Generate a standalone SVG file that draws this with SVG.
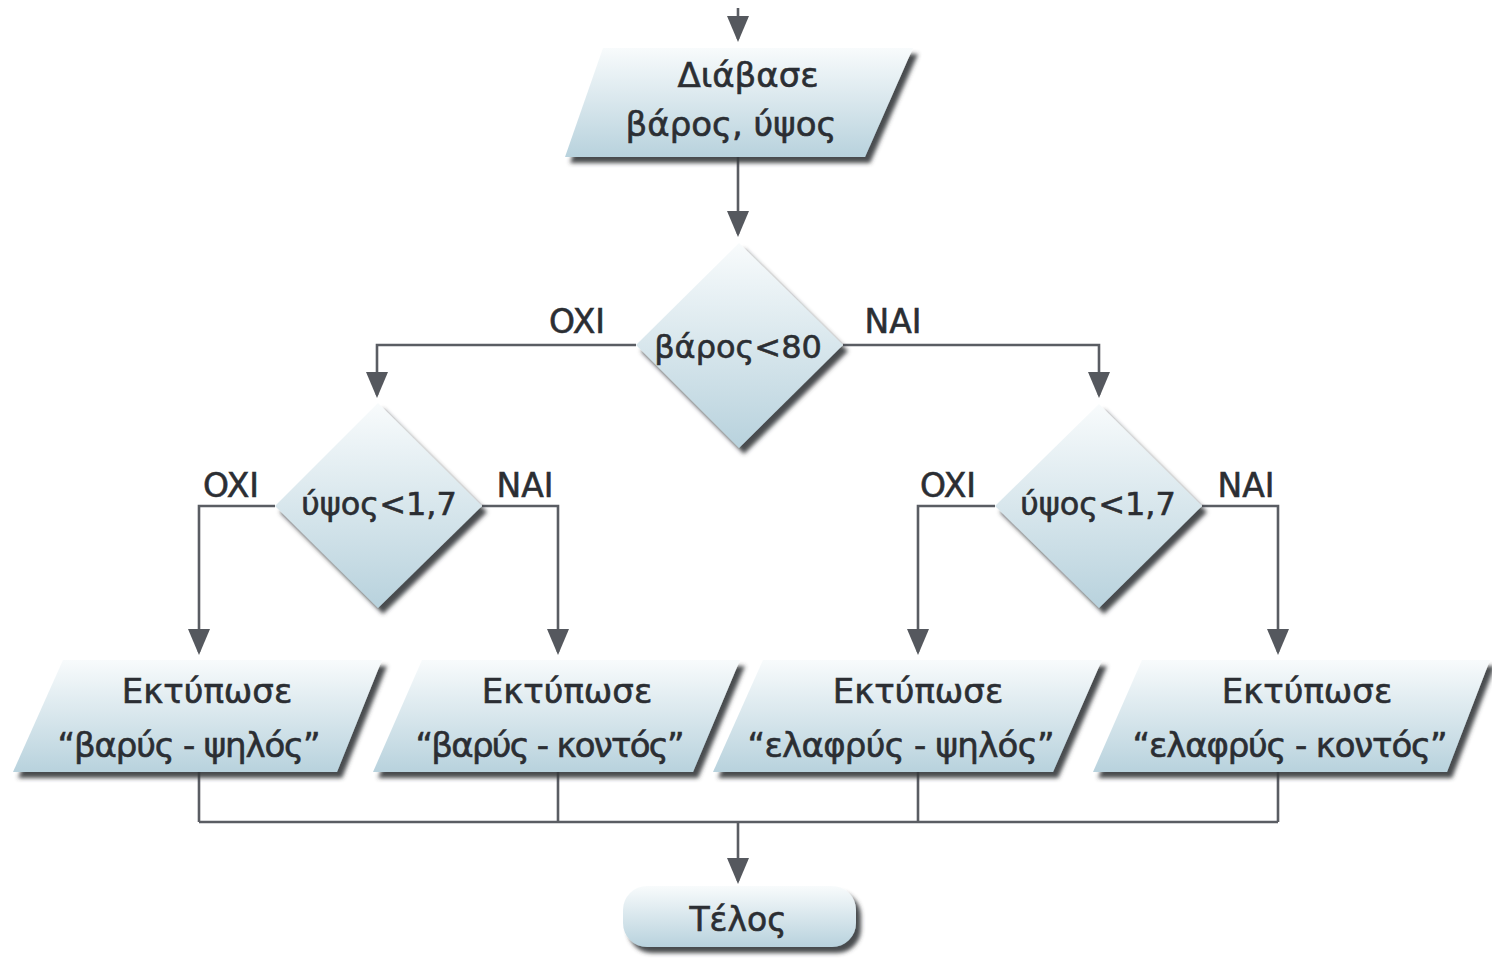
<svg xmlns="http://www.w3.org/2000/svg" width="1492" height="958" viewBox="0 0 1492 958">
  <defs>
    <linearGradient id="fillGrad" x1="0" y1="0" x2="0" y2="1">
      <stop offset="0" stop-color="#f8fbfc"/>
      <stop offset="1" stop-color="#b8d2dd"/>
    </linearGradient>
    <filter id="shadow" x="-10%" y="-10%" width="130%" height="130%">
      <feDropShadow dx="5" dy="6" stdDeviation="2.2" flood-color="#35373b" flood-opacity="0.9"/>
    </filter>
    <marker id="arrow" viewBox="0 0 26 22" refX="23" refY="11" markerWidth="26" markerHeight="22" markerUnits="userSpaceOnUse" orient="auto">
      <path d="M0,0 L26,11 L0,22 Z" fill="#55585e"/>
    </marker>
    <style>
      .shape { fill: url(#fillGrad); filter: url(#shadow); }
      .line { fill: none; stroke: #5a5d63; stroke-width: 2.6; }
      .arr { marker-end: url(#arrow); }
      text { font-family: "DejaVu Sans", "Liberation Sans", sans-serif; fill: #2b2e33; stroke: #2b2e33; stroke-width: 0.6; text-anchor: middle; }
      .box { font-size: 34px; }
      .cond { font-size: 32px; }
      .lbl { font-size: 33px; }
      .end { font-size: 33px; }
    </style>
  </defs>

  <rect width="1492" height="958" fill="#ffffff"/>

  <!-- connectors -->
  <g id="connectors">
    <path class="line arr" d="M738,8 V39"/>
    <path class="line arr" d="M738,157 V234"/>
    <path class="line arr" d="M636,345 H377 V395"/>
    <path class="line arr" d="M843,345 H1099 V395"/>
    <path class="line arr" d="M275,506 H199 V652"/>
    <path class="line arr" d="M482,506 H558 V652"/>
    <path class="line arr" d="M995,506 H918 V652"/>
    <path class="line arr" d="M1202,506 H1278 V652"/>
    <path class="line" d="M199,772 V822 M558,772 V822 M918,772 V822 M1278,772 V822 M199,822 H1278"/>
    <path class="line arr" d="M738,822 V881"/>
  </g>

  <!-- input -->
  <g id="read">
    <polygon class="shape" points="603,48 913,48 865,157 565,157"/>
    <text class="box" x="748" y="87">Διάβασε</text>
    <text class="box" x="731" y="136">βάρος, ύψος</text>
  </g>

  <!-- decisions -->
  <g id="cond-weight">
    <polygon class="shape" points="739,243 843,345 739,448 636,345"/>
    <text class="cond" x="738" y="358">βάρος&lt;80</text>
    <text class="lbl" x="577" y="333">OXI</text>
    <text class="lbl" x="893" y="333">NAI</text>
  </g>

  <g id="cond-height-left">
    <polygon class="shape" points="378,403 482,506 378,608 275,506"/>
    <text class="cond" x="379" y="515">ύψος&lt;1,7</text>
    <text class="lbl" x="231" y="497">OXI</text>
    <text class="lbl" x="525" y="497">NAI</text>
  </g>

  <g id="cond-height-right">
    <polygon class="shape" points="1099,404 1202,506 1099,608 995,506"/>
    <text class="cond" x="1098" y="515">ύψος&lt;1,7</text>
    <text class="lbl" x="948" y="497">OXI</text>
    <text class="lbl" x="1246" y="497">NAI</text>
  </g>

  <!-- outputs -->
  <g id="print-heavy-tall">
    <polygon class="shape" points="63,660 382,660 337,772 13,772"/>
    <text class="box" x="207" y="703">Εκτύπωσε</text>
    <text class="box" x="189" y="757" textLength="263" lengthAdjust="spacing">“βαρύς - ψηλός”</text>
  </g>

  <g id="print-heavy-short">
    <polygon class="shape" points="422,660 740,660 693,772 373,772"/>
    <text class="box" x="567" y="703">Εκτύπωσε</text>
    <text class="box" x="550" y="757" textLength="269" lengthAdjust="spacing">“βαρύς - κοντός”</text>
  </g>

  <g id="print-light-tall">
    <polygon class="shape" points="763,660 1102,660 1053,772 713,772"/>
    <text class="box" x="918" y="703">Εκτύπωσε</text>
    <text class="box" x="901" y="757" textLength="307" lengthAdjust="spacing">“ελαφρύς - ψηλός”</text>
  </g>

  <g id="print-light-short">
    <polygon class="shape" points="1142,660 1490,660 1447,772 1093,772"/>
    <text class="box" x="1307" y="703">Εκτύπωσε</text>
    <text class="box" x="1290" y="757" textLength="315" lengthAdjust="spacing">“ελαφρύς - κοντός”</text>
  </g>

  <!-- end -->
  <g id="end">
    <rect class="shape" x="623" y="886" width="233" height="61" rx="24" ry="24"/>
    <text class="end" x="738" y="931">Τέλος</text>
  </g>
</svg>
